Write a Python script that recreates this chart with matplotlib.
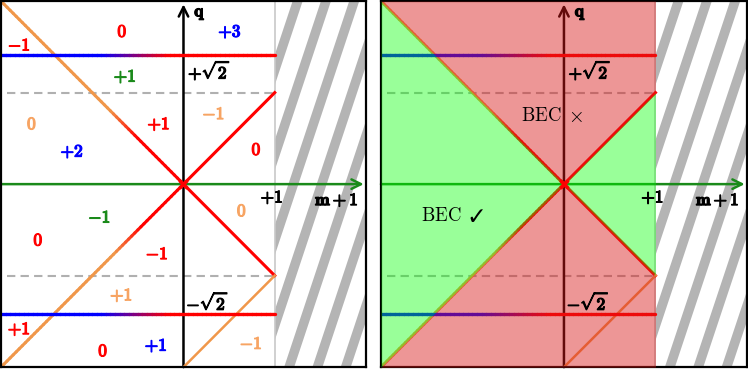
import matplotlib
matplotlib.use('Agg')
import matplotlib.pyplot as plt
import matplotlib.colors as mcolors
import matplotlib.patheffects as pe
from matplotlib.collections import LineCollection
from matplotlib.patches import Rectangle
import numpy as np

plt.rcParams['mathtext.fontset'] = 'cm'
plt.rcParams['font.family'] = ['DejaVu Serif', 'DejaVu Sans']

# axes: x is m+1, y is q
u_lim = (-2, 2)
q_lim = (-2, 2)
u_edge = 1            # hatched (forbidden) for m+1 > 1
sqrt2 = np.sqrt(2)

# region boundaries |q| = |m+1|
bound_u = [-2, 0, 1]
bound_q = [2, 0, 1]

# line pieces (u, q)
left_up_u, left_up_q = [-2, 0], [2, 0]
left_dn_u, left_dn_q = [-2, 0], [-2, 0]
right_up_u, right_up_q = [0, 1], [0, 1]
right_dn_u, right_dn_q = [0, 1], [0, -1]
orange_dn_u, orange_dn_q = [0, 1], [-2, -1]
hline_u = [-2, 1]
dash_u = [-1.93, 1]
dash_q = [1, -1]

RED = '#ff0000'
BLUE = '#0000ff'
GREEN = '#1a8a1a'
ORANGE = '#f0974a'
ORANGE_TXT = '#f7a463'

# labels of the left panel: text, m+1, q, colour
labels = [
    (r'$\mathbf{-1}$', -1.80, 1.51, RED),
    (r'$\mathbf{0}$', -0.67, 1.66, RED),
    (r'$\mathbf{+3}$', 0.51, 1.66, BLUE),
    (r'$\mathbf{+1}$', -0.64, 1.17, GREEN),
    (r'$\mathbf{0}$', -1.66, 0.65, ORANGE_TXT),
    (r'$\mathbf{+1}$', -0.27, 0.65, RED),
    (r'$\mathbf{-1}$', 0.33, 0.76, ORANGE_TXT),
    (r'$\mathbf{+2}$', -1.22, 0.35, BLUE),
    (r'$\mathbf{0}$', 0.80, 0.37, RED),
    (r'$\mathbf{-1}$', -0.92, -0.37, GREEN),
    (r'$\mathbf{0}$', -1.59, -0.62, RED),
    (r'$\mathbf{-1}$', -0.29, -0.77, RED),
    (r'$\mathbf{0}$', 0.64, -0.30, ORANGE_TXT),
    (r'$\mathbf{+1}$', -0.68, -1.22, ORANGE_TXT),
    (r'$\mathbf{+1}$', -1.80, -1.59, RED),
    (r'$\mathbf{0}$', -0.88, -1.83, RED),
    (r'$\mathbf{+1}$', -0.30, -1.77, BLUE),
    (r'$\mathbf{-1}$', 0.74, -1.75, ORANGE_TXT),
]


def bold(c):
    return [pe.withStroke(linewidth=0.9, foreground=c)]


def gradient_line(ax, u, q, c0, c1, t0, t1, lw, z):
    # colour goes from c0 to c1 between u=t0 and u=t1
    n = 60
    s = np.linspace(0, 1, n + 1)
    uu = u[0] + (u[1] - u[0]) * s
    qq = q[0] + (q[1] - q[0]) * s
    pts = np.column_stack([uu, qq]).reshape(-1, 1, 2)
    segs = np.concatenate([pts[:-1], pts[1:]], axis=1)
    mid = 0.5 * (uu[:-1] + uu[1:])
    f = np.clip((mid - t0) / (t1 - t0), 0, 1)
    a, b = np.array(mcolors.to_rgb(c0)), np.array(mcolors.to_rgb(c1))
    cols = a[None, :] * (1 - f[:, None]) + b[None, :] * f[:, None]
    lc = LineCollection(segs, colors=cols, linewidths=lw, zorder=z,
                        capstyle='round')
    ax.add_collection(lc)


def hatch(ax):
    rect = Rectangle((u_edge, q_lim[0]), u_lim[1] - u_edge, q_lim[1] - q_lim[0],
                     facecolor='white', edgecolor='none', zorder=1)
    ax.add_patch(rect)
    k = 1 / 3.0
    w = 0.11
    for c in np.arange(1.196 - 0.31 * 2, 3.6, 0.31):
        # stripe: u = c + k*(q - 2)
        xs = [c + k * (q_lim[0] - 2), c + w + k * (q_lim[0] - 2),
              c + w, c]
        ys = [q_lim[0], q_lim[0], q_lim[1], q_lim[1]]
        p, = ax.fill(xs, ys, color='#b4b4b4', lw=0, zorder=1.1)
        p.set_clip_path(rect)
    ax.plot([u_edge, u_edge], q_lim, color='#c8c8c8', lw=1.2, zorder=1.2)


def base(ax):
    ax.set_xlim(*u_lim)
    ax.set_ylim(*q_lim)
    ax.set_xticks([])
    ax.set_yticks([])
    for s in ax.spines.values():
        s.set_linewidth(1.6)
        s.set_color('black')
    hatch(ax)
    z = 2
    for q in dash_q:
        ax.plot(dash_u, [q, q], color='#b0b0b0', lw=1.5,
                ls=(0, (4, 2.5)), zorder=z)
    # axes
    ax.annotate('', xy=(1.975, 0), xytext=(-2, 0),
                arrowprops=dict(arrowstyle='->', color=GREEN, lw=1.8,
                                mutation_scale=17, shrinkA=0, shrinkB=0),
                zorder=z)
    ax.annotate('', xy=(0, 1.965), xytext=(0, -2),
                arrowprops=dict(arrowstyle='->', color='black', lw=1.8,
                                mutation_scale=17, shrinkA=0, shrinkB=0),
                zorder=z)
    gradient_line(ax, left_up_u, left_up_q, ORANGE, RED, -0.8, -0.5, 2.2, z)
    gradient_line(ax, left_dn_u, left_dn_q, ORANGE, RED, -0.75, -0.45, 2.2, z)
    ax.plot(right_up_u, right_up_q, color=RED, lw=2.2, zorder=z)
    ax.plot(right_dn_u, right_dn_q, color=RED, lw=2.2, zorder=z)
    ax.plot(orange_dn_u, orange_dn_q, color=ORANGE, lw=1.8, zorder=z)
    for q in (sqrt2, -sqrt2):
        gradient_line(ax, hline_u, [q, q], BLUE, RED, -0.9, -0.15, 2.4, z)
    ax.plot([0], [0], marker='x', color=RED, ms=6, mew=2.5, zorder=6)

    fs = 12.5
    kw = dict(fontsize=fs, va='center', zorder=6, path_effects=bold('black'))
    ax.text(0.18, 1.87, r'$\mathbf{q}$', ha='center', **kw)
    ax.text(0.05, 1.24, r'$+\sqrt{\mathbf{2}}$', ha='left', **kw)
    ax.text(0.03, -1.29, r'$-\sqrt{\mathbf{2}}$', ha='left', **kw)
    ax.text(0.97, -0.15, r'$\mathbf{+1}$', ha='center', **kw)
    ax.text(1.68, -0.18, r'$\mathbf{m+1}$', ha='center', **kw)


fig = plt.figure(figsize=(7.48, 3.69), dpi=100)
ax1 = fig.add_axes([0.0013, 0.005, 0.488, 0.992])
ax2 = fig.add_axes([0.5093, 0.005, 0.4893, 0.992])

base(ax1)
for t, u, q, c in labels:
    ax1.text(u, q, t, color=c, fontsize=12.5, ha='center', va='center',
             zorder=6, path_effects=bold(c))

base(ax2)
bu = np.array(bound_u)
bq = np.array(bound_q)
red_fill = (217 / 255, 26 / 255, 26 / 255)
ax2.fill_between(bu, -bq, bq, color=(0, 1, 0), alpha=0.4, lw=0, zorder=3)
ax2.fill_between(bu, bq, q_lim[1], color=red_fill, alpha=0.46, lw=0, zorder=3)
ax2.fill_between(bu, q_lim[0], -bq, color=red_fill, alpha=0.46, lw=0, zorder=3)
ax2.text(-0.25, 0.74, r'$\mathrm{BEC}$', fontsize=13.5, ha='center',
         va='center', zorder=6)
ax2.text(0.12, 0.74, r'$\times$', fontsize=14.5, ha='center',
         va='center', zorder=6)
ax2.text(-1.337, -0.35, r'$\mathrm{BEC}$', fontsize=13.5, ha='center',
         va='center', zorder=6)
ax2.text(-0.96, -0.36, '\u2713', fontsize=17, ha='center', va='center',
         family=['DejaVu Sans'], zorder=6)

fig.savefig('out.png', dpi=100)
